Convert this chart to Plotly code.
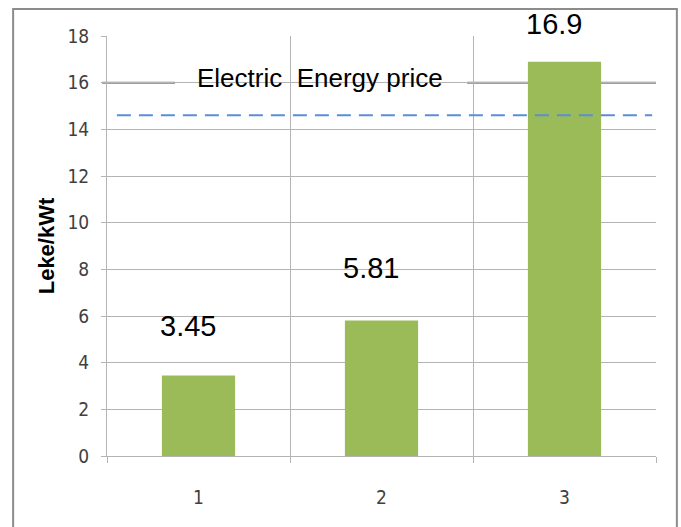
import plotly.graph_objects as go

# Cost per kWh for the three options, and the reference electricity price
categories = [1, 2, 3]
category_labels = ["1", "2", "3"]
cost_values = [3.45, 5.81, 16.9]
value_labels = ["3.45", "5.81", "16.9"]
label_lift = [50, 52, 38]
energy_price = 14.6
reference_line = 16
legend_text = "Electric  Energy price"
y_title = "Leke/kWt"
y_ticks = list(range(0, 19, 2))

BAR_COLOR = "#9BBB59"
GRID = "#b4b4b4"
TICK_FONT = dict(family="Liberation Sans Narrow, DejaVu Sans Condensed, Arial Narrow, sans-serif",
                 size=19, color="#404040")

fig = go.Figure()
fig.add_trace(go.Bar(
    x=categories, y=cost_values, width=0.4,
    marker=dict(color=BAR_COLOR, line=dict(width=0)),
    hoverinfo="skip", showlegend=False,
))

annotations = []
for x, v, txt, lift in zip(categories, cost_values, value_labels, label_lift):
    annotations.append(dict(
        x=x, y=v, text=txt, showarrow=False, xanchor="center", yanchor="middle",
        yshift=lift, xshift=-11,
        font=dict(family="Liberation Sans, Arial, sans-serif", size=29, color="#000000"),
    ))
annotations.append(dict(
    xref="paper", yref="paper", x=0.388, y=0.9, text=legend_text, showarrow=False,
    xanchor="center", yanchor="middle",
    font=dict(family="Liberation Sans, Arial, sans-serif", size=26, color="#000000"),
))

shapes = [
    # dark reference line at 16
    dict(type="line", xref="paper", yref="y", x0=-0.009, x1=1, y0=reference_line, y1=reference_line,
         line=dict(color="#7f7f7f", width=2), layer="between"),
    # white legend box
    dict(type="rect", xref="paper", yref="paper", x0=0.124, x1=0.656, y0=0.848, y1=0.962,
         fillcolor="#ffffff", line=dict(width=0), layer="between"),
    # energy price (dashed)
    dict(type="line", xref="paper", yref="y", x0=0.018, x1=0.993, y0=energy_price, y1=energy_price,
         line=dict(color="#5B8ED6", width=2, dash="14px,8px"), layer="above"),
    # outer frame
    dict(type="rect", xref="paper", yref="paper", x0=-0.171, x1=1.038, y0=-0.2, y1=1.0643,
         line=dict(color="#8c8c8c", width=2), fillcolor="rgba(0,0,0,0)", layer="above"),
]

fig.update_layout(
    width=681, height=527,
    margin=dict(l=107, r=25, t=36, b=71),
    paper_bgcolor="#ffffff", plot_bgcolor="#ffffff",
    bargap=0.6,
    shapes=shapes, annotations=annotations,
    xaxis=dict(
        range=[0.5, 3.5], tickvals=categories, ticktext=category_labels,
        ticks="", showgrid=False, zeroline=False,
        showline=True, linecolor=GRID, linewidth=1,
        tickfont=TICK_FONT, ticklabelstandoff=24,
        minor=dict(tickvals=[0.5, 1.5, 2.5, 3.5], showgrid=True, gridcolor=GRID, gridwidth=1,
                   ticks="outside", ticklen=6, tickcolor=GRID),
    ),
    yaxis=dict(
        range=[0, 18], tickvals=y_ticks, showgrid=True, gridcolor=GRID, gridwidth=1,
        zeroline=False, showline=True, linecolor=GRID, linewidth=1,
        ticks="outside", ticklen=5, tickcolor=GRID,
        tickfont=TICK_FONT, ticklabelstandoff=8,
        title=dict(text=y_title, standoff=6,
                   font=dict(family="Liberation Sans, Arial, sans-serif", size=22, color="#000000",
                             weight="bold")),
    ),
)

fig.write_html("out.html")
